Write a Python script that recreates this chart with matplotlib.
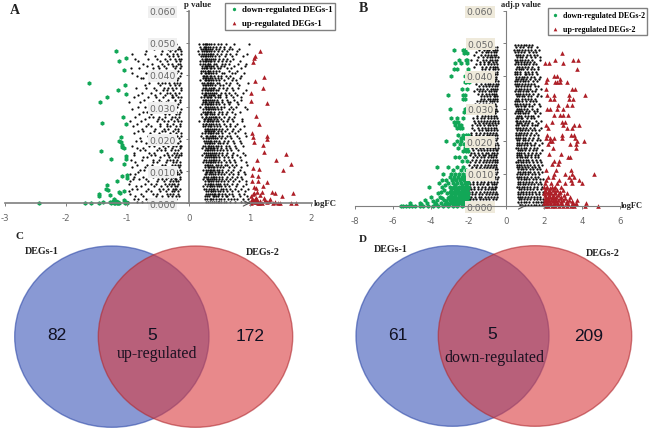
import numpy as np
import matplotlib
matplotlib.use("Agg")
import matplotlib.pyplot as plt
from matplotlib.patches import Ellipse

plt.rcParams["axes.unicode_minus"] = False

# p value rows the black clouds were read along, top to bottom
levels = [0.0495, 0.048, 0.0465, 0.045, 0.0435, 0.042, 0.0405, 0.039, 0.0375, 0.036, 0.0345,
          0.033, 0.0315, 0.03, 0.0285, 0.027, 0.0255, 0.024, 0.0225, 0.021, 0.0195, 0.018,
          0.0165, 0.015, 0.0135, 0.012, 0.0105, 0.009, 0.0075, 0.006, 0.0045, 0.003, 0.0012]
levels2 = [0.0488, 0.0473, 0.0458, 0.0443, 0.0428, 0.0413, 0.0398, 0.0383, 0.0368, 0.0353, 0.0338,
           0.0323, 0.0308, 0.0293, 0.0278, 0.0263, 0.0248, 0.0233, 0.0218, 0.0203, 0.0188, 0.0173,
           0.0158, 0.0143, 0.0128, 0.0113, 0.0098, 0.0083, 0.0068, 0.0053, 0.0038, 0.0022, 0.0005]

black_a_left = [
    [-0.62, -0.53, -0.41, -0.28, -0.2],
    [-0.57, -0.33, -0.27, -0.21, -0.14, -0.17],
    [-0.92, -0.72, -0.45, -0.36, -0.25, -0.19, -0.13],
    [-0.87, -0.66, -0.52, -0.39, -0.3, -0.23, -0.16, -0.12],
    [-0.75, -0.6, -0.44, -0.34, -0.27, -0.18, -0.14],
    [-0.94, -0.81, -0.58, -0.48, -0.37, -0.22, -0.15],
    [-0.93, -0.69, -0.63, -0.41, -0.31, -0.26, -0.2, -0.13],
    [-0.78, -0.74, -0.55, -0.46, -0.35, -0.29, -0.17],
    [-0.64, -0.5, -0.43, -0.38, -0.32, -0.24, -0.19, -0.14],
    [-0.86, -0.7, -0.56, -0.4, -0.33, -0.27, -0.21, -0.12],
    [-0.76, -0.61, -0.47, -0.36, -0.3, -0.23, -0.16],
    [-0.9, -0.66, -0.53, -0.42, -0.28, -0.25, -0.18, -0.13],
    [-0.97, -0.8, -0.58, -0.45, -0.37, -0.22, -0.15],
    [-0.83, -0.72, -0.63, -0.51, -0.4, -0.31, -0.26, -0.19],
    [-0.75, -0.68, -0.55, -0.44, -0.34, -0.29, -0.2, -0.14],
    [-0.88, -0.64, -0.59, -0.48, -0.38, -0.27, -0.23, -0.16],
    [-0.95, -0.78, -0.52, -0.41, -0.33, -0.24, -0.18, -0.12],
    [-0.91, -0.7, -0.61, -0.46, -0.36, -0.3, -0.21, -0.15],
    [-0.82, -0.74, -0.56, -0.43, -0.39, -0.26, -0.17],
    [-0.67, -0.6, -0.5, -0.35, -0.32, -0.22, -0.19, -0.13],
    [-0.86, -0.77, -0.54, -0.47, -0.37, -0.28, -0.24, -0.15],
    [-0.93, -0.65, -0.57, -0.42, -0.33, -0.25, -0.2, -0.14, -0.12],
    [-0.8, -0.71, -0.52, -0.45, -0.38, -0.29, -0.23, -0.17],
    [-0.89, -0.62, -0.55, -0.4, -0.34, -0.27, -0.21, -0.16, -0.13],
    [-0.94, -0.76, -0.58, -0.49, -0.36, -0.31, -0.26, -0.19],
    [-0.84, -0.68, -0.6, -0.44, -0.39, -0.28, -0.22, -0.18, -0.14],
    [-0.79, -0.73, -0.53, -0.47, -0.35, -0.3, -0.24, -0.2, -0.15],
    [-0.96, -0.87, -0.63, -0.56, -0.41, -0.33, -0.27, -0.25, -0.19, -0.16],
    [-0.91, -0.81, -0.69, -0.5, -0.43, -0.37, -0.29, -0.23, -0.21, -0.14],
    [-0.98, -0.72, -0.61, -0.54, -0.39, -0.32, -0.28, -0.24, -0.18],
    [-0.93, -0.85, -0.66, -0.48, -0.42, -0.34, -0.26, -0.22, -0.2, -0.15],
    [-0.96, -0.77, -0.59, -0.51, -0.36, -0.3, -0.25, -0.17],
    [-0.9, -0.82, -0.7, -0.63, -0.55, -0.45, -0.38, -0.31, -0.27, -0.21],
]
black_a_left_2 = [
    [-0.48, -0.36, -0.24, -0.16],
    [-0.7, -0.44, -0.3, -0.22, -0.13],
    [-0.55, -0.32, -0.26, -0.18],
    [-0.83, -0.47, -0.35, -0.21, -0.15],
    [-0.68, -0.5, -0.41, -0.25, -0.2, -0.12],
    [-0.62, -0.38, -0.29, -0.17],
    [-0.85, -0.56, -0.43, -0.33, -0.23, -0.14],
    [-0.6, -0.49, -0.37, -0.27, -0.19],
    [-0.71, -0.46, -0.31, -0.22, -0.16],
    [-0.53, -0.42, -0.35, -0.25, -0.13],
    [-0.82, -0.55, -0.39, -0.28, -0.2],
    [-0.73, -0.48, -0.33, -0.23, -0.15],
    [-0.64, -0.52, -0.41, -0.3, -0.18],
    [-0.92, -0.57, -0.46, -0.35, -0.24, -0.13],
    [-0.81, -0.61, -0.39, -0.32, -0.21, -0.16],
    [-0.72, -0.5, -0.43, -0.29, -0.19],
    [-0.84, -0.66, -0.46, -0.36, -0.26, -0.14],
    [-0.76, -0.55, -0.4, -0.33, -0.23, -0.17],
    [-0.89, -0.63, -0.49, -0.3, -0.2, -0.12],
    [-0.79, -0.56, -0.42, -0.37, -0.25, -0.16],
    [-0.7, -0.6, -0.44, -0.31, -0.21, -0.18],
    [-0.85, -0.74, -0.48, -0.38, -0.27, -0.15],
    [-0.9, -0.64, -0.57, -0.35, -0.24, -0.19, -0.13],
    [-0.75, -0.68, -0.46, -0.32, -0.22, -0.17],
    [-0.87, -0.59, -0.51, -0.37, -0.26, -0.21, -0.14],
    [-0.92, -0.72, -0.55, -0.42, -0.3, -0.23, -0.16],
    [-0.83, -0.65, -0.49, -0.38, -0.28, -0.19, -0.12],
    [-0.89, -0.75, -0.58, -0.44, -0.34, -0.25, -0.22, -0.15],
    [-0.95, -0.66, -0.52, -0.4, -0.31, -0.26, -0.2, -0.17],
    [-0.86, -0.78, -0.57, -0.45, -0.35, -0.29, -0.23, -0.19],
    [-0.97, -0.69, -0.62, -0.46, -0.37, -0.27, -0.24, -0.18],
    [-0.88, -0.74, -0.54, -0.43, -0.33, -0.28, -0.21, -0.16],
    [-0.99, -0.84, -0.76, -0.66, -0.5, -0.41, -0.35, -0.25],
]

black_a_right = [
    [0.16, 0.23, 0.26, 0.28, 0.3, 0.33, 0.36, 0.41, 0.47, 0.53, 0.6, 0.74, 0.98],
    [0.2, 0.24, 0.27, 0.29, 0.32, 0.35, 0.38, 0.44, 0.5, 0.57, 0.65, 0.7, 0.82],
    [0.17, 0.22, 0.25, 0.28, 0.31, 0.34, 0.37, 0.4, 0.46, 0.52, 0.61, 0.68, 0.77, 0.95],
    [0.21, 0.26, 0.29, 0.3, 0.33, 0.36, 0.39, 0.43, 0.49, 0.56, 0.63, 0.72],
    [0.19, 0.24, 0.27, 0.31, 0.32, 0.35, 0.42, 0.45, 0.54, 0.59, 0.66, 0.8, 0.93],
    [0.22, 0.25, 0.28, 0.3, 0.34, 0.37, 0.41, 0.48, 0.51, 0.62, 0.69, 0.86],
    [0.2, 0.26, 0.29, 0.32, 0.33, 0.36, 0.39, 0.44, 0.55, 0.58, 0.71, 0.76, 0.9],
    [0.23, 0.27, 0.28, 0.31, 0.35, 0.38, 0.43, 0.47, 0.52, 0.64, 0.73, 0.83],
    [0.21, 0.25, 0.3, 0.32, 0.34, 0.37, 0.4, 0.46, 0.5, 0.6, 0.67, 0.78, 0.96],
    [0.24, 0.27, 0.29, 0.33, 0.36, 0.39, 0.42, 0.49, 0.56, 0.63, 0.7, 0.81],
    [0.22, 0.26, 0.28, 0.31, 0.35, 0.38, 0.41, 0.45, 0.53, 0.59, 0.66, 0.75, 0.88],
    [0.2, 0.25, 0.3, 0.32, 0.34, 0.37, 0.43, 0.48, 0.51, 0.61, 0.72, 0.85],
    [0.23, 0.27, 0.29, 0.33, 0.36, 0.4, 0.44, 0.47, 0.55, 0.64, 0.68, 0.79],
    [0.18, 0.26, 0.28, 0.31, 0.35, 0.38, 0.42, 0.46, 0.52, 0.58, 0.69, 0.77, 0.92],
    [0.24, 0.27, 0.3, 0.32, 0.34, 0.37, 0.41, 0.49, 0.54, 0.62, 0.71, 0.84],
    [0.22, 0.28, 0.29, 0.33, 0.36, 0.39, 0.43, 0.45, 0.5, 0.57, 0.65, 0.74],
    [0.17, 0.25, 0.3, 0.31, 0.35, 0.38, 0.4, 0.44, 0.48, 0.56, 0.63, 0.73, 0.87],
    [0.23, 0.27, 0.32, 0.34, 0.37, 0.41, 0.46, 0.51, 0.6, 0.67, 0.76, 0.9],
    [0.26, 0.29, 0.31, 0.33, 0.36, 0.39, 0.42, 0.47, 0.53, 0.59, 0.7, 0.8],
    [0.2, 0.28, 0.3, 0.35, 0.38, 0.4, 0.43, 0.49, 0.55, 0.62, 0.68, 0.78, 0.94],
    [0.25, 0.29, 0.32, 0.34, 0.37, 0.41, 0.45, 0.5, 0.58, 0.64, 0.72, 0.83],
    [0.23, 0.27, 0.31, 0.33, 0.36, 0.39, 0.44, 0.48, 0.52, 0.61, 0.66, 0.75, 0.89],
    [0.26, 0.3, 0.32, 0.35, 0.38, 0.42, 0.46, 0.51, 0.56, 0.63, 0.69, 0.81],
    [0.22, 0.28, 0.31, 0.34, 0.37, 0.4, 0.43, 0.47, 0.54, 0.6, 0.71, 0.79, 0.92],
    [0.25, 0.29, 0.33, 0.36, 0.39, 0.41, 0.45, 0.49, 0.57, 0.65, 0.74, 0.86],
    [0.27, 0.3, 0.32, 0.35, 0.38, 0.44, 0.48, 0.52, 0.59, 0.62, 0.7, 0.77, 0.95],
    [0.24, 0.28, 0.31, 0.34, 0.37, 0.4, 0.42, 0.46, 0.5, 0.55, 0.64, 0.73, 0.84],
    [0.26, 0.29, 0.33, 0.36, 0.39, 0.43, 0.47, 0.53, 0.58, 0.66, 0.72, 0.8, 0.91],
    [0.23, 0.3, 0.32, 0.35, 0.38, 0.41, 0.45, 0.49, 0.54, 0.6, 0.68, 0.75, 0.87],
    [0.27, 0.31, 0.34, 0.37, 0.4, 0.44, 0.48, 0.51, 0.57, 0.63, 0.7, 0.78, 0.93],
    [0.25, 0.29, 0.33, 0.36, 0.39, 0.42, 0.46, 0.52, 0.56, 0.61, 0.67, 0.76, 0.85, 0.97],
    [0.28, 0.31, 0.35, 0.38, 0.41, 0.43, 0.47, 0.5, 0.55, 0.59, 0.65, 0.71, 0.82, 0.9],
    [0.26, 0.3, 0.34, 0.37, 0.4, 0.45, 0.49, 0.53, 0.58, 0.64, 0.69, 0.74, 0.79, 0.88, 0.96],
]
black_a_right_2 = [
    [0.19, 0.25, 0.27, 0.29, 0.31, 0.34, 0.39, 0.45, 0.51, 0.58, 0.67],
    [0.15, 0.21, 0.25, 0.28, 0.3, 0.33, 0.37, 0.42, 0.48, 0.55, 0.63, 0.78],
    [0.2, 0.23, 0.26, 0.29, 0.32, 0.35, 0.38, 0.43, 0.5, 0.59, 0.71, 0.88],
    [0.18, 0.24, 0.27, 0.28, 0.31, 0.34, 0.37, 0.41, 0.47, 0.54, 0.6, 0.68, 0.84],
    [0.22, 0.26, 0.29, 0.3, 0.33, 0.36, 0.4, 0.46, 0.52, 0.57, 0.74, 0.91],
    [0.2, 0.24, 0.27, 0.31, 0.32, 0.35, 0.39, 0.44, 0.5, 0.65, 0.79],
    [0.23, 0.25, 0.28, 0.3, 0.34, 0.37, 0.42, 0.47, 0.53, 0.61, 0.68, 0.85],
    [0.19, 0.26, 0.29, 0.32, 0.33, 0.36, 0.4, 0.45, 0.49, 0.57, 0.7, 0.77],
    [0.24, 0.27, 0.28, 0.31, 0.35, 0.38, 0.43, 0.51, 0.56, 0.66, 0.82],
    [0.21, 0.26, 0.3, 0.32, 0.34, 0.37, 0.4, 0.44, 0.48, 0.61, 0.72, 0.93],
    [0.25, 0.27, 0.29, 0.33, 0.36, 0.39, 0.42, 0.47, 0.51, 0.6, 0.69, 0.78],
    [0.23, 0.26, 0.28, 0.31, 0.35, 0.38, 0.41, 0.46, 0.54, 0.63, 0.74, 0.86],
    [0.21, 0.27, 0.3, 0.32, 0.34, 0.37, 0.39, 0.45, 0.5, 0.58, 0.66, 0.81],
    [0.24, 0.29, 0.31, 0.33, 0.36, 0.4, 0.43, 0.48, 0.53, 0.65, 0.73, 0.95],
    [0.2, 0.26, 0.28, 0.3, 0.35, 0.38, 0.42, 0.47, 0.55, 0.6, 0.76],
    [0.25, 0.27, 0.31, 0.32, 0.34, 0.37, 0.41, 0.46, 0.52, 0.64, 0.7, 0.87],
    [0.23, 0.28, 0.29, 0.33, 0.36, 0.39, 0.44, 0.5, 0.58, 0.67, 0.79],
    [0.26, 0.3, 0.31, 0.35, 0.38, 0.42, 0.45, 0.49, 0.55, 0.62, 0.72, 0.83],
    [0.21, 0.27, 0.32, 0.34, 0.37, 0.4, 0.44, 0.48, 0.54, 0.65, 0.75, 0.91],
    [0.24, 0.29, 0.31, 0.33, 0.36, 0.39, 0.43, 0.46, 0.52, 0.59, 0.69, 0.82],
    [0.27, 0.3, 0.33, 0.35, 0.38, 0.41, 0.47, 0.51, 0.56, 0.63, 0.74, 0.86],
    [0.22, 0.28, 0.32, 0.34, 0.37, 0.4, 0.42, 0.46, 0.53, 0.6, 0.67, 0.77],
    [0.25, 0.29, 0.31, 0.35, 0.38, 0.41, 0.44, 0.49, 0.55, 0.62, 0.72, 0.88],
    [0.27, 0.3, 0.33, 0.36, 0.39, 0.42, 0.45, 0.5, 0.58, 0.64, 0.7, 0.83],
    [0.24, 0.28, 0.32, 0.34, 0.37, 0.4, 0.43, 0.48, 0.52, 0.61, 0.68, 0.76, 0.94],
    [0.26, 0.31, 0.33, 0.36, 0.39, 0.41, 0.46, 0.51, 0.56, 0.65, 0.74, 0.85],
    [0.28, 0.3, 0.34, 0.35, 0.38, 0.43, 0.47, 0.5, 0.54, 0.6, 0.69, 0.81, 0.9],
    [0.25, 0.29, 0.32, 0.37, 0.4, 0.42, 0.45, 0.49, 0.55, 0.62, 0.71, 0.78, 0.86],
    [0.27, 0.31, 0.33, 0.36, 0.39, 0.44, 0.48, 0.52, 0.57, 0.64, 0.73, 0.82, 0.93],
    [0.24, 0.3, 0.34, 0.35, 0.38, 0.41, 0.46, 0.5, 0.53, 0.59, 0.66, 0.77, 0.88],
    [0.28, 0.32, 0.36, 0.37, 0.4, 0.43, 0.47, 0.51, 0.56, 0.62, 0.7, 0.8, 0.92],
    [0.27, 0.3, 0.33, 0.39, 0.42, 0.45, 0.48, 0.54, 0.6, 0.63, 0.72, 0.84, 0.95],
    [0.29, 0.32, 0.35, 0.38, 0.41, 0.44, 0.47, 0.5, 0.52, 0.57, 0.61, 0.67, 0.76, 0.86, 0.92, 0.99],
]

black_b_left = [
    [-1.9, -1.3, -1.05, -0.75],
    [-1.45, -1.2, -1.02, -0.9, -0.72, -0.6, -0.48],
    [-1.7, -1.35, -1.14, -0.95, -0.82, -0.68, -0.55],
    [-1.85, -1.55, -1.25, -1.08, -0.86, -0.77, -0.62, -0.5],
    [-1.6, -1.4, -1.18, -0.98, -0.8, -0.65, -0.52],
    [-1.3, -1.12, -0.9, -0.7, -0.58, -0.46],
    [-1.95, -1.5, -1.35, -1.2, -1.0, -0.84, -0.74, -0.6, -0.48],
    [-1.75, -1.42, -1.27, -1.05, -0.92, -0.78, -0.63, -0.54],
    [-1.62, -1.33, -1.15, -0.96, -0.87, -0.69, -0.57, -0.47],
    [-1.55, -1.38, -1.22, -1.03, -0.82, -0.72, -0.6, -0.5],
    [-1.48, -1.28, -1.1, -0.94, -0.76, -0.66, -0.53],
    [-1.35, -1.17, -1.0, -0.85, -0.7, -0.58, -0.49],
    [-1.68, -1.45, -1.25, -1.07, -0.9, -0.74, -0.62],
    [-1.5, -1.32, -1.13, -0.97, -0.8, -0.65, -0.55],
    [-1.4, -1.2, -1.04, -0.88, -0.71, -0.59],
    [-1.78, -1.58, -1.36, -1.16, -0.99, -0.83, -0.68, -0.51],
    [-1.65, -1.43, -1.24, -1.09, -0.92, -0.77, -0.6, -0.47],
    [-1.82, -1.52, -1.3, -1.12, -0.95, -0.79, -0.66, -0.54],
    [-1.9, -1.6, -1.38, -1.19, -1.01, -0.86, -0.72, -0.57],
    [-1.72, -1.47, -1.27, -1.06, -0.89, -0.75, -0.63, -0.49],
    [-1.95, -1.56, -1.34, -1.14, -0.93, -0.81, -0.67, -0.52],
    [-1.8, -1.63, -1.41, -1.22, -1.03, -0.87, -0.7, -0.6, -0.46],
    [-1.88, -1.7, -1.49, -1.29, -1.1, -0.96, -0.78, -0.64, -0.5],
    [-1.76, -1.54, -1.37, -1.17, -1.0, -0.84, -0.73, -0.56],
    [-1.93, -1.66, -1.44, -1.26, -1.08, -0.91, -0.76, -0.62, -0.48],
    [-1.84, -1.6, -1.39, -1.2, -1.02, -0.88, -0.69, -0.53],
    [-1.97, -1.73, -1.51, -1.31, -1.13, -0.94, -0.8, -0.65, -0.5],
    [-1.89, -1.64, -1.46, -1.24, -1.06, -0.9, -0.74, -0.59, -0.47],
    [-1.98, -1.78, -1.57, -1.35, -1.16, -0.98, -0.82, -0.68, -0.52],
    [-1.92, -1.69, -1.5, -1.28, -1.11, -0.92, -0.77, -0.61, -0.55],
    [-1.96, -1.81, -1.6, -1.42, -1.21, -1.04, -0.86, -0.71, -0.57],
    [-1.99, -1.86, -1.67, -1.47, -1.33, -1.15, -0.97, -0.83, -0.64, -0.5],
    [-1.99, -1.94, -1.88, -1.83, -1.75, -1.55, -1.37, -1.18, -1.0, -0.85, -0.7],
]
black_b_left_2 = [
    [-1.1, -0.93, -0.8, -0.66, -0.52],
    [-1.6, -1.28, -1.1, -0.96, -0.82, -0.65, -0.54],
    [-1.52, -1.24, -1.05, -0.88, -0.74, -0.6, -0.47],
    [-1.38, -1.16, -0.99, -0.92, -0.7, -0.56],
    [-1.72, -1.3, -1.09, -0.87, -0.73, -0.59, -0.48],
    [-1.48, -1.22, -1.02, -0.8, -0.64, -0.5],
    [-1.65, -1.42, -1.13, -0.94, -0.78, -0.67, -0.54],
    [-1.58, -1.34, -1.17, -0.99, -0.83, -0.71, -0.58, -0.46],
    [-1.44, -1.25, -1.08, -0.91, -0.75, -0.62, -0.52],
    [-1.7, -1.46, -1.3, -1.12, -0.93, -0.79, -0.66, -0.55],
    [-1.36, -1.19, -1.03, -0.86, -0.68, -0.6, -0.48],
    [-1.56, -1.41, -1.23, -1.06, -0.89, -0.77, -0.63, -0.51],
    [-1.6, -1.37, -1.18, -1.01, -0.84, -0.72, -0.57],
    [-1.44, -1.26, -1.09, -0.92, -0.76, -0.6, -0.5],
    [-1.55, -1.3, -1.12, -0.95, -0.82, -0.67, -0.53],
    [-1.74, -1.5, -1.33, -1.2, -1.04, -0.88, -0.73, -0.61, -0.47],
    [-1.83, -1.56, -1.39, -1.21, -1.0, -0.85, -0.7, -0.56],
    [-1.7, -1.47, -1.27, -1.1, -0.97, -0.8, -0.64, -0.49],
    [-1.86, -1.63, -1.43, -1.23, -1.05, -0.9, -0.74, -0.6, -0.52],
    [-1.78, -1.55, -1.35, -1.15, -0.98, -0.83, -0.69, -0.54],
    [-1.91, -1.68, -1.48, -1.3, -1.07, -0.91, -0.76, -0.61, -0.47],
    [-1.75, -1.52, -1.33, -1.18, -1.02, -0.85, -0.72, -0.57, -0.5],
    [-1.95, -1.66, -1.46, -1.25, -1.11, -0.94, -0.79, -0.65, -0.53],
    [-1.82, -1.59, -1.4, -1.21, -1.03, -0.88, -0.7, -0.59, -0.48],
    [-1.98, -1.72, -1.54, -1.34, -1.15, -0.99, -0.82, -0.67, -0.55],
    [-1.87, -1.62, -1.43, -1.27, -1.09, -0.93, -0.75, -0.6, -0.49],
    [-1.94, -1.76, -1.58, -1.37, -1.19, -1.01, -0.86, -0.71, -0.56],
    [-1.99, -1.83, -1.65, -1.44, -1.26, -1.08, -0.89, -0.73, -0.63, -0.51],
    [-1.95, -1.75, -1.55, -1.39, -1.23, -1.05, -0.95, -0.78, -0.66, -0.54],
    [-1.99, -1.86, -1.7, -1.52, -1.32, -1.14, -0.96, -0.81, -0.69, -0.58],
    [-1.97, -1.84, -1.64, -1.45, -1.29, -1.1, -0.91, -0.75, -0.62, -0.5],
    [-1.99, -1.91, -1.78, -1.6, -1.41, -1.25, -1.07, -0.9, -0.73, -0.56],
    [-1.97, -1.92, -1.9, -1.85, -1.8, -1.72, -1.5, -1.3, -1.1, -0.92, -0.78],
]

black_b_right = [
    [0.45, 0.6, 0.78, 0.95, 1.05, 1.22, 1.38],
    [0.42, 0.55, 0.68, 0.85, 1.0, 1.12, 1.3, 1.5, 1.72],
    [0.5, 0.63, 0.74, 0.9, 1.08, 1.25, 1.44, 1.6],
    [0.44, 0.57, 0.7, 0.82, 0.98, 1.15, 1.33, 1.8],
    [0.48, 0.6, 0.76, 0.93, 1.04, 1.2, 1.42, 1.55],
    [0.52, 0.65, 0.8, 0.88, 1.1, 1.28, 1.48, 1.68],
    [0.46, 0.58, 0.72, 0.96, 1.02, 1.18, 1.36, 1.62],
    [0.5, 0.62, 0.78, 0.86, 1.06, 1.24, 1.52, 1.75],
    [0.47, 0.56, 0.69, 0.84, 1.0, 1.14, 1.32, 1.46],
    [0.53, 0.66, 0.75, 0.92, 1.08, 1.26, 1.58, 1.85],
    [0.49, 0.6, 0.73, 0.89, 1.03, 1.2, 1.4, 1.66],
    [0.51, 0.64, 0.81, 0.97, 1.12, 1.3, 1.5],
    [0.46, 0.58, 0.7, 0.86, 1.05, 1.22, 1.44, 1.72],
    [0.54, 0.67, 0.77, 0.94, 1.1, 1.35, 1.6],
    [0.48, 0.61, 0.74, 0.9, 1.01, 1.16, 1.54, 1.78],
    [0.52, 0.63, 0.79, 0.85, 1.07, 1.28, 1.48],
    [0.55, 0.68, 0.76, 0.98, 1.13, 1.38, 1.65],
    [0.49, 0.6, 0.72, 0.88, 1.04, 1.24, 1.46, 1.82],
    [0.53, 0.65, 0.8, 0.93, 1.09, 1.32, 1.57],
    [0.5, 0.62, 0.71, 0.87, 1.0, 1.19, 1.42, 1.7],
    [0.56, 0.69, 0.83, 0.96, 1.11, 1.27, 1.52, 1.88],
    [0.51, 0.64, 0.75, 0.91, 1.06, 1.23, 1.44, 1.62],
    [0.54, 0.66, 0.78, 0.94, 1.14, 1.34, 1.58, 1.76],
    [0.57, 0.7, 0.82, 0.99, 1.08, 1.29, 1.49, 1.68],
    [0.52, 0.63, 0.76, 0.89, 1.03, 1.21, 1.4, 1.6, 1.84],
    [0.55, 0.68, 0.84, 0.97, 1.16, 1.36, 1.54, 1.74],
    [0.59, 0.72, 0.86, 1.01, 1.12, 1.26, 1.46, 1.66, 1.9],
    [0.56, 0.67, 0.79, 0.92, 1.07, 1.3, 1.5, 1.7],
    [0.6, 0.73, 0.88, 1.02, 1.18, 1.38, 1.56, 1.8],
    [0.58, 0.69, 0.81, 0.95, 1.1, 1.25, 1.44, 1.64, 1.86],
    [0.62, 0.75, 0.9, 1.04, 1.2, 1.34, 1.52, 1.72, 1.92],
    [0.6, 0.71, 0.85, 0.99, 1.15, 1.28, 1.47, 1.6, 1.78],
    [0.64, 0.77, 0.92, 1.06, 1.22, 1.4, 1.55, 1.68, 1.84, 1.95],
]
black_b_right_2 = [
    [0.52, 0.7, 0.88, 1.12, 1.3, 1.62],
    [0.47, 0.62, 0.8, 0.93, 1.18, 1.4, 1.58],
    [0.56, 0.7, 0.84, 1.02, 1.3, 1.52, 1.78],
    [0.5, 0.64, 0.78, 0.94, 1.1, 1.26, 1.48],
    [0.54, 0.67, 0.83, 1.0, 1.14, 1.34, 1.7],
    [0.46, 0.58, 0.72, 0.98, 1.16, 1.36, 1.56],
    [0.52, 0.66, 0.82, 0.92, 1.1, 1.3, 1.46, 1.78],
    [0.45, 0.56, 0.7, 0.9, 1.0, 1.16, 1.4, 1.6],
    [0.53, 0.63, 0.79, 0.94, 1.08, 1.24, 1.52, 1.7],
    [0.48, 0.6, 0.71, 0.86, 1.02, 1.17, 1.36, 1.5],
    [0.55, 0.67, 0.81, 0.95, 1.14, 1.3, 1.62, 1.82],
    [0.47, 0.58, 0.69, 0.85, 1.06, 1.25, 1.42, 1.58],
    [0.52, 0.62, 0.76, 0.92, 1.0, 1.18, 1.35, 1.76],
    [0.49, 0.6, 0.72, 0.83, 1.03, 1.2, 1.48, 1.64],
    [0.56, 0.65, 0.79, 0.96, 1.12, 1.28, 1.42, 1.7],
    [0.5, 0.58, 0.7, 0.88, 1.04, 1.22, 1.56, 1.84],
    [0.53, 0.64, 0.81, 0.92, 1.08, 1.33, 1.5, 1.6],
    [0.57, 0.71, 0.84, 1.0, 1.17, 1.38, 1.54, 1.75],
    [0.51, 0.62, 0.74, 0.9, 1.06, 1.25, 1.48, 1.66],
    [0.58, 0.67, 0.86, 0.98, 1.15, 1.36, 1.6, 1.8],
    [0.54, 0.66, 0.77, 0.93, 1.1, 1.3, 1.46, 1.72],
    [0.59, 0.72, 0.85, 1.01, 1.2, 1.4, 1.55, 1.9],
    [0.56, 0.68, 0.8, 0.97, 1.12, 1.28, 1.5, 1.68],
    [0.6, 0.74, 0.87, 1.02, 1.17, 1.33, 1.56, 1.78],
    [0.55, 0.66, 0.79, 0.95, 1.1, 1.26, 1.44, 1.66, 1.88],
    [0.62, 0.75, 0.9, 1.04, 1.23, 1.42, 1.6, 1.8],
    [0.58, 0.7, 0.83, 0.98, 1.15, 1.34, 1.52, 1.72],
    [0.64, 0.76, 0.91, 1.05, 1.2, 1.4, 1.58, 1.76, 1.92],
    [0.61, 0.72, 0.87, 1.0, 1.14, 1.3, 1.48, 1.67, 1.85],
    [0.65, 0.78, 0.93, 1.08, 1.24, 1.42, 1.62, 1.82],
    [0.63, 0.74, 0.88, 1.03, 1.18, 1.36, 1.55, 1.75, 1.93],
    [0.67, 0.8, 0.95, 1.11, 1.26, 1.44, 1.63, 1.8, 1.96],
    [0.7, 0.82, 0.97, 1.13, 1.3, 1.48, 1.58, 1.74, 1.88, 1.98],
]

green_a_x = [-1.19, -1.14, -1.02, -1.05, -1.625, -1.04, -1.16, -1.02, -1.33, -1.45, -1.065, -1.42,
             -1.03, -1.10, -1.135, -1.11, -1.09, -1.08, -1.055, -1.43, -1.02, -1.03, -1.27, -1.05,
             -1.005, -1.08, -1.005, -1.17, -1.34, -1.35, -1.315, -1.455, -1.46, -1.135, -1.06,
             -1.12, -1.28, -2.445, -1.685, -1.59, -1.46, -1.4, -1.29, -1.24, -1.21, -1.18, -1.15,
             -1.26, -1.22, -1.19, -1.16, -1.13, -1.05, -1.02, -1.0, -1.23, -1.2, -1.17, -1.04]
green_a_y = [0.0475, 0.0442, 0.0452, 0.0416, 0.0375, 0.037, 0.0354, 0.034, 0.033, 0.0315, 0.027, 0.025,
             0.0246, 0.0205, 0.0195, 0.019, 0.0183, 0.0174, 0.0173, 0.0163, 0.0148, 0.0138, 0.0138, 0.0121,
             0.0089, 0.0084, 0.0079, 0.0069, 0.0057, 0.0043, 0.0041, 0.003, 0.0022, 0.0036, 0.0039,
             0.0031, 0.0026, 0.0, 0.0001, 0.0001, 0.0001, 0.0003, 0.0003, 0.0005, 0.0012, 0.0008, 0.0002,
             0.0001, 0.0002, 0.0004, 0.0004, 0.0001, 0.0009, 0.0004, 0.0001, 0.0007, 0.0002, 0.0001, 0.0002]

red_a_x = [1.157, 1.08, 1.06, 1.05, 1.23, 1.076, 1.21, 1.016, 1.02, 1.27, 1.10, 1.14, 1.027, 1.05,
           1.28, 1.28, 1.065, 1.21, 1.23, 1.58, 1.42, 1.12, 1.66, 1.53, 1.04, 1.15, 1.03, 1.13,
           1.03, 1.13, 1.28, 1.21, 1.06, 1.09, 1.70, 1.35, 1.41, 1.52, 1.11, 1.2, 1.05, 1.02,
           1.04, 1.06, 1.08, 1.1, 1.12, 1.14, 1.01, 1.03, 1.05, 1.07, 1.09, 1.11, 1.13, 1.17, 1.2,
           1.24, 1.28, 1.31, 1.33, 1.37, 1.41, 1.45, 1.49, 1.66, 1.75, 1.02, 1.06, 1.1, 1.16, 1.22]
red_a_y = [0.0475, 0.0458, 0.0452, 0.0439, 0.0393, 0.038, 0.036, 0.0345, 0.032, 0.0313, 0.0273, 0.0248,
           0.0219, 0.0205, 0.021, 0.02, 0.0192, 0.0182, 0.016, 0.0155, 0.0134, 0.0136, 0.0122, 0.0104,
           0.0109, 0.0106, 0.0089, 0.0084, 0.007, 0.007, 0.0067, 0.0055, 0.005, 0.0047, 0.0032, 0.0036,
           0.0032, 0.0024, 0.0036, 0.0034, 0.0029, 0.0002, 0.001, 0.0006, 0.0013, 0.0003, 0.0009, 0.0002,
           0.0006, 0.0014, 0.0003, 0.0008, 0.0016, 0.0005, 0.0001, 0.0007, 0.0002, 0.0011, 0.0003, 0.0006,
           0.0012, 0.0002, 0.0004, 0.0001, 0.0002, 0.0001, 0.0001, 0.0022, 0.0032, 0.0018, 0.0025, 0.0015]

# panel B colored points, read in rows as well
green_b_levels = [0.048, 0.047, 0.045, 0.044, 0.042, 0.04, 0.038, 0.036, 0.034, 0.033, 0.03, 0.029, 0.027,
                  0.026, 0.025, 0.024, 0.022, 0.021, 0.02, 0.019, 0.018, 0.017, 0.015, 0.014, 0.012, 0.011,
                  0.01, 0.009, 0.008, 0.007, 0.006, 0.005, 0.004, 0.003, 0.002, 0.001, 0.0002]
green_b_rows = [
    [-2.75, -2.3, -2.2],
    [-2.1, -2.25],
    [-2.5, -2.08, -2.15],
    [-2.7, -2.42, -2.1],
    [-2.8, -2.6, -2.05],
    [-2.95, -2.18, -2.15],
    [-2.2, -2.12, -2.0],
    [-2.35, -2.1],
    [-3.1, -2.3, -2.2],
    [-2.3, -2.2],
    [-3.0, -2.2, -2.12, -2.05],
    [-2.25, -2.1],
    [-2.95, -2.62, -2.3],
    [-2.8, -2.65, -2.55],
    [-2.7, -2.5, -2.42],
    [-2.6, -2.45, -2.35],
    [-2.55, -2.3, -2.12, -2.05],
    [-2.4, -2.25, -2.15, -2.0],
    [-3.2, -2.6, -2.38, -2.08],
    [-2.8, -2.48, -2.25],
    [-2.55, -2.2, -2.1],
    [-2.3, -2.15, -2.05],
    [-2.7, -2.5, -2.2],
    [-2.35, -2.1],
    [-3.65, -3.1, -2.6, -2.3],
    [-2.85, -2.4, -2.15],
    [-3.35, -2.95, -2.7, -2.5, -2.3, -2.1],
    [-3.0, -2.8, -2.55, -2.35, -2.2, -2.05],
    [-3.4, -3.2, -2.9, -2.65, -2.45, -2.25, -2.1],
    [-3.55, -3.1, -2.85, -2.6, -2.4, -2.2, -2.05],
    [-4.1, -3.4, -3.0, -2.75, -2.5, -2.3, -2.15, -2.02],
    [-3.3, -2.95, -2.7, -2.55, -2.35, -2.2, -2.08],
    [-3.6, -3.15, -2.85, -2.6, -2.45, -2.3, -2.12, -2.04],
    [-4.0, -3.5, -3.05, -2.9, -2.7, -2.5, -2.35, -2.2, -2.05],
    [-4.3, -3.7, -3.3, -3.0, -2.8, -2.6, -2.45, -2.25, -2.1],
    [-5.1, -4.6, -4.2, -3.8, -3.45, -3.15, -2.9, -2.65, -2.4, -2.2, -2.03],
    [-5.6, -5.45, -5.3, -5.15, -5.0, -4.85, -4.55, -4.4, -4.15, -3.9, -3.6, -3.35, -3.1, -2.85, -2.6, -2.35, -2.15],
]
green_b_levels_2 = [0.0085, 0.0065, 0.0055, 0.0045, 0.0035, 0.0025, 0.0015, 0.0006]
green_b_rows_2 = [
    [-2.75, -2.42, -2.15],
    [-3.25, -2.7, -2.35, -2.12],
    [-2.9, -2.62, -2.4, -2.25, -2.05],
    [-3.45, -3.0, -2.78, -2.52, -2.38, -2.18],
    [-2.95, -2.72, -2.52, -2.38, -2.22, -2.06],
    [-3.4, -3.1, -2.85, -2.65, -2.42, -2.28, -2.12],
    [-3.9, -3.2, -2.95, -2.75, -2.55, -2.35, -2.18, -2.02],
    [-4.5, -3.75, -3.25, -3.02, -2.78, -2.55, -2.32, -2.12],
]

red_b_levels = [0.047, 0.045, 0.044, 0.042, 0.04, 0.039, 0.038, 0.036, 0.034, 0.033, 0.031, 0.03, 0.028,
                0.026, 0.025, 0.024, 0.022, 0.021, 0.02, 0.019, 0.018, 0.016, 0.015, 0.014, 0.013, 0.011,
                0.01, 0.009, 0.008, 0.007, 0.006, 0.005, 0.004, 0.003, 0.002, 0.001, 0.0002]
red_b_rows = [
    [2.95],
    [2.6, 3.55, 3.8],
    [2.05, 2.25, 3.0],
    [3.75],
    [2.5, 2.7],
    [2.15, 2.85],
    [2.1, 2.6, 2.7, 2.85, 3.2],
    [2.1, 3.5, 3.65],
    [2.15, 2.5, 3.3, 4.15],
    [2.3, 2.5, 3.3, 3.55],
    [2.75, 3.2, 3.45],
    [2.15, 2.3, 2.7, 3.0],
    [2.5, 2.85, 3.0, 3.25],
    [2.4, 2.95, 3.1],
    [2.1, 3.0, 3.6, 3.85],
    [2.2, 3.2, 3.5],
    [2.15, 2.95, 3.4, 3.6],
    [2.1, 2.3, 2.5, 2.95, 3.65],
    [2.3, 2.4, 3.75, 4.1],
    [2.2, 3.35, 3.7],
    [2.45, 3.7],
    [2.25, 2.9],
    [3.25, 3.35],
    [2.8, 2.5],
    [2.75, 2.4],
    [2.65, 2.1, 3.4],
    [2.5, 3.1, 3.5, 4.65],
    [2.2, 2.45, 3.3, 3.6],
    [2.1, 2.8, 3.4, 3.85],
    [2.05, 2.35, 2.7, 3.1, 3.5, 4.0],
    [2.0, 2.15, 2.4, 2.6, 2.9],
    [2.05, 2.25, 2.45, 2.7, 3.0],
    [2.0, 2.2, 2.35, 2.55, 2.8, 3.2],
    [2.1, 2.3, 2.45, 2.65, 2.9, 3.35],
    [2.02, 2.18, 2.38, 2.55, 2.75, 3.0, 3.3, 3.75],
    [2.0, 2.15, 2.3, 2.5, 2.7, 2.9, 3.15, 3.55, 3.7, 4.2],
    [2.05, 2.2, 2.4, 2.6, 2.8, 3.0, 3.2, 3.4, 3.6, 4.15, 4.85],
]
red_b_levels_2 = [0.0055, 0.0045, 0.0035, 0.0025, 0.0015, 0.0006]
red_b_rows_2 = [
    [2.08, 2.3, 2.52],
    [2.12, 2.32, 2.58, 2.85],
    [2.06, 2.26, 2.48, 2.72, 3.05],
    [2.02, 2.22, 2.4, 2.6, 2.82, 3.1],
    [2.08, 2.28, 2.46, 2.64, 2.88, 3.2, 3.5],
    [2.12, 2.34, 2.52, 2.72, 2.95, 3.28, 3.48, 3.7],
]

y_ticks = [0.0, 0.01, 0.02, 0.03, 0.04, 0.05, 0.06]
x_ticks_a = [-3, -2, -1, 0, 1, 2]
x_ticks_b = [-8, -6, -4, -2, 0, 2, 4, 6]

venn_c = ["82", "5", "172"]
venn_d = ["61", "5", "209"]

W, H = 650, 431
BLACK, GREEN, RED = "#0c0c0c", "#12a757", "#ae1f27"
GREY = "#7f7f7f"
SERIF = "Liberation Serif"


def rows_to_xy(ys, rows):
    xs, out = [], []
    for y, row in zip(ys, rows):
        xs += row
        out += [y] * len(row)
    return np.array(xs), np.array(out)


def px_axes(fig, left, right, top, bottom):
    return fig.add_axes([left / W, 1 - bottom / H, (right - left) / W, (bottom - top) / H])


def volcano(ax, xlim, xticks, spine_w, label_pad, bg):
    ax.set_xlim(*xlim)
    ax.set_ylim(0, 0.06)
    ax.patch.set_alpha(0)
    for s in ["top", "right"]:
        ax.spines[s].set_visible(False)
    ax.spines["left"].set_position(("data", 0))
    ax.spines["bottom"].set_position(("data", 0))
    for s in ["left", "bottom"]:
        ax.spines[s].set_color(GREY)
        ax.spines[s].set_linewidth(spine_w)
    ax.set_xticks(xticks)
    ax.set_yticks(y_ticks)
    ax.set_yticklabels(["%.3f" % v for v in y_ticks])
    ax.tick_params(axis="x", length=2, width=0.7, color=GREY, labelcolor="#666666", labelsize=6.2, pad=5)
    ax.tick_params(axis="y", length=2, width=0.7, color=GREY, labelcolor="#666666", labelsize=6.6, pad=label_pad)
    for lab in ax.get_yticklabels():
        lab.set_bbox(dict(facecolor=bg, edgecolor="none", pad=1.0))
    ax.annotate("", xy=(0, 1.0), xytext=(0, 0.98), xycoords=ax.get_yaxis_transform(),
                arrowprops=dict(arrowstyle="->", color="#555555", lw=0.8, shrinkA=0, shrinkB=0))
    ax.annotate("", xy=(1.0, 0), xytext=(0.98, 0), xycoords=ax.get_xaxis_transform(),
                arrowprops=dict(arrowstyle="->", color="#555555", lw=0.8, shrinkA=0, shrinkB=0))


def venn(ax, left1, right1, left2, right2, top, bottom, texts, word, word_pos):
    h = bottom - top
    ax.add_patch(Ellipse(((left1 + right1) / 2, (top + bottom) / 2), right1 - left1, h,
                         facecolor="#3a55b8", edgecolor="#2f4aa8", alpha=0.6, lw=1.0))
    ax.add_patch(Ellipse(((left2 + right2) / 2, (top + bottom) / 2), right2 - left2, h,
                         facecolor="#d93a3e", edgecolor="#b02a30", alpha=0.6, lw=1.0))
    for (x, y), s in zip(texts, word):
        ax.text(x, y, s, ha="center", va="center", family="Liberation Sans", fontsize=12.5, color="#111122")
    ax.text(word_pos[0], word_pos[1], word_pos[2], ha="center", va="center", family=SERIF,
            fontsize=word_pos[3], color="#1a1020")


fig = plt.figure(figsize=(6.5, 4.31), dpi=100, facecolor="white")

# venn panels go underneath
bg_ax = fig.add_axes([0, 0, 1, 1])
bg_ax.set_xlim(0, W)
bg_ax.set_ylim(H, 0)
bg_ax.axis("off")
venn(bg_ax, 14.7, 209, 98.3, 292.7, 247, 428.3,
     [(57.3, 336), (152.3, 335.7), (250, 337)], venn_c, (157, 354.3, "up-regulated", 11.4))
venn(bg_ax, 356, 549, 438.3, 631.7, 246.7, 427.3,
     [(397.7, 335.3), (492.3, 335), (588.7, 336.7)], venn_d, (494.3, 358.3, "down-regulated", 11.4))

for x, y, s, fs in [(15, 10, "A", 10), (363, 9, "B", 10), (19, 237, "C", 8), (362.7, 240, "D", 8),
                    (41.7, 252, "DEGs-1", 7.2), (262.7, 253, "DEGs-2", 7.2),
                    (391, 250, "DEGs-1", 7.2), (602.3, 253.7, "DEGs-2", 7.2)]:
    bg_ax.text(x, y, s, ha="center", va="center", family=SERIF, weight="bold", fontsize=fs, color="#222222")

bg_ax.text(184, 4.7, "p value", ha="left", va="center", family=SERIF, weight="bold", fontsize=6.3, color="#222222")
bg_ax.text(314, 204, "logFC", ha="left", va="center", family=SERIF, weight="bold", fontsize=6.3, color="#222222")
bg_ax.text(501, 5, "adj.p value", ha="left", va="center", family=SERIF, weight="bold", fontsize=6, color="#222222")
bg_ax.text(621, 206.5, "logFC", ha="left", va="center", family=SERIF, weight="bold", fontsize=6, color="#222222")

# panel A
ax_a = px_axes(fig, 4.7, 312, 11.7, 204.3)
volcano(ax_a, (-3.0, 2.01), x_ticks_a, 1.2, 7.5, "#f0f0f0")
for ys, rows in [(levels, black_a_left), (levels, black_a_right), (levels2, black_a_left_2), (levels2, black_a_right_2)]:
    xs, yy = rows_to_xy(ys, rows)
    ax_a.scatter(xs, yy, s=2.6, marker="o", color=BLACK, lw=0, clip_on=False)
pa_g = ax_a.scatter(green_a_x, green_a_y, s=11, marker="h", color=GREEN, lw=0, clip_on=False,
                    label="down-regulated DEGs-1")
pa_r = ax_a.scatter(red_a_x, red_a_y, s=11, marker="^", color=RED, lw=0, clip_on=False,
                    label="up-regulated DEGs-1")

# panel B
ax_b = px_axes(fig, 355.3, 619.7, 11.7, 207.3)
volcano(ax_b, (-8, 6), x_ticks_b, 0.8, 7.5, "#efeadb")
for ys, rows in [(levels, black_b_left), (levels, black_b_right), (levels2, black_b_left_2), (levels2, black_b_right_2)]:
    xs, yy = rows_to_xy(ys, rows)
    ax_b.scatter(xs, yy, s=2.8, marker="o", color=BLACK, lw=0, clip_on=False)
xg, yg = rows_to_xy(green_b_levels + green_b_levels_2, green_b_rows + green_b_rows_2)
xr, yr = rows_to_xy(red_b_levels + red_b_levels_2, red_b_rows + red_b_rows_2)
pb_g = ax_b.scatter(xg, yg, s=11, marker="h", color=GREEN, lw=0, clip_on=False, label="down-regulated DEGs-2")
pb_r = ax_b.scatter(xr, yr, s=11, marker="^", color=RED, lw=0, clip_on=False, label="up-regulated DEGs-2")

fig.legend(handles=[pa_g, pa_r], loc="upper left", bbox_to_anchor=(225.3 / W, 1 - 4 / H),
           prop=dict(family=SERIF, weight="bold", size=6.3), frameon=True, fancybox=False,
           edgecolor="#808080", facecolor="white", framealpha=1, borderaxespad=0, borderpad=0.25,
           labelspacing=0.68, handletextpad=0.08, handlelength=1.6, markerscale=0.8).set_zorder(5)
fig.legend(handles=[pb_g, pb_r], loc="upper left", bbox_to_anchor=(547.7 / W, 1 - 9.3 / H),
           prop=dict(family=SERIF, weight="bold", size=5.7), frameon=True, fancybox=False,
           edgecolor="#808080", facecolor="white", framealpha=1, borderaxespad=0, borderpad=0.3,
           labelspacing=0.8, handletextpad=0.33, handlelength=1.3, markerscale=0.8).set_zorder(5)

fig.savefig("out.png", dpi=100)
